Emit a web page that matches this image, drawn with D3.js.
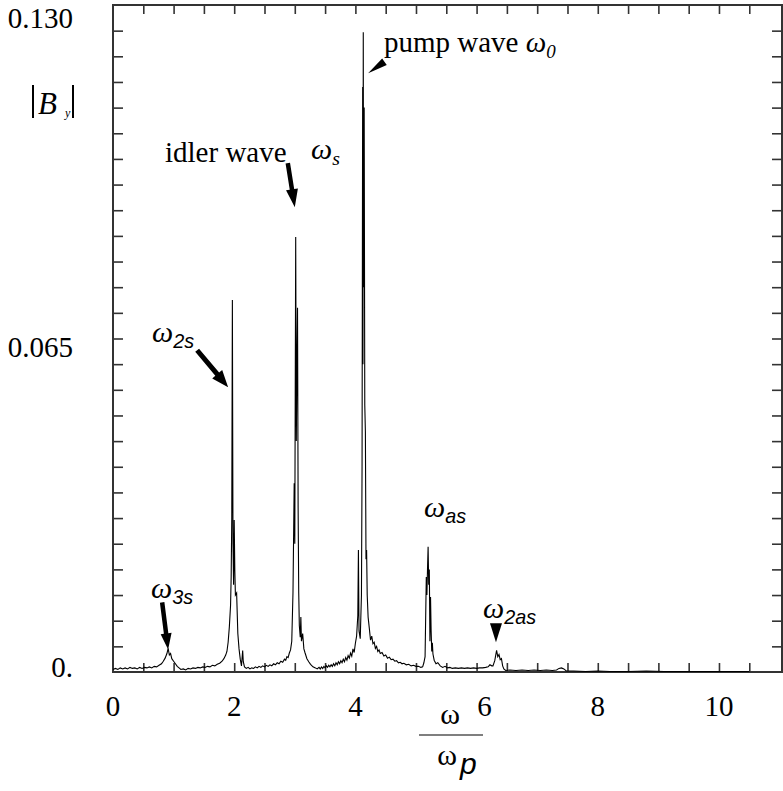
<!DOCTYPE html>
<html>
<head>
<meta charset="utf-8">
<script src="https://cdn.jsdelivr.net/npm/d3@7"></script>
<style>
  body { margin: 0; background: #fff; }
</style>
</head>
<body>
<div id="chart"></div>
<script>
// omega / omega_p
const omega = [
  0.00, 0.04, 0.08, 0.12, 0.16, 0.20, 0.24, 0.28, 0.32, 0.36, 0.40, 0.44, 0.48, 0.52, 0.56, 0.60,
  0.64, 0.68, 0.72, 0.76, 0.80, 0.83, 0.86, 0.89, 0.91, 0.93, 0.95, 0.97, 1.00, 1.03, 1.06, 1.09,
  1.12, 1.16, 1.20, 1.24, 1.28, 1.32, 1.36, 1.40, 1.44, 1.48, 1.52, 1.56, 1.60, 1.64, 1.68, 1.72,
  1.76, 1.80, 1.83, 1.86, 1.88, 1.90, 1.92, 1.94, 1.95, 1.96, 1.97, 1.98, 1.99, 2.00, 2.01, 2.02,
  2.04, 2.06, 2.08, 2.10, 2.12, 2.14, 2.15, 2.17, 2.20, 2.23, 2.26, 2.29, 2.32, 2.35, 2.38, 2.41,
  2.44, 2.47, 2.50, 2.53, 2.56, 2.59, 2.62, 2.65, 2.68, 2.71, 2.74, 2.77, 2.80, 2.83, 2.85, 2.87,
  2.89, 2.91, 2.93, 2.95, 2.97, 2.99, 3.00, 3.015, 3.025, 3.035, 3.045, 3.055, 3.065, 3.075, 3.09, 3.10,
  3.11, 3.13, 3.15, 3.17, 3.20, 3.23, 3.26, 3.30, 3.34, 3.37, 3.40, 3.42, 3.44, 3.46, 3.48, 3.50,
  3.52, 3.54, 3.56, 3.58, 3.60, 3.62, 3.64, 3.66, 3.68, 3.70, 3.72, 3.74, 3.76, 3.78, 3.80, 3.82,
  3.84, 3.86, 3.88, 3.90, 3.92, 3.94, 3.96, 3.98, 4.00, 4.02, 4.04, 4.05, 4.06, 4.08, 4.10, 4.11,
  4.12, 4.125, 4.13, 4.135, 4.145, 4.155, 4.165, 4.175, 4.185, 4.195, 4.21, 4.23, 4.25, 4.27, 4.29, 4.31,
  4.33, 4.35, 4.37, 4.39, 4.41, 4.44, 4.47, 4.50, 4.53, 4.56, 4.59, 4.62, 4.65, 4.68, 4.71, 4.74,
  4.77, 4.80, 4.84, 4.88, 4.92, 4.96, 5.00, 5.04, 5.08, 5.11, 5.13, 5.15, 5.17, 5.18, 5.19, 5.20,
  5.21, 5.22, 5.23, 5.24, 5.25, 5.26, 5.27, 5.28, 5.30, 5.33, 5.36, 5.40, 5.44, 5.48, 5.52, 5.56,
  5.60, 5.65, 5.70, 5.75, 5.80, 5.85, 5.90, 5.95, 6.00, 6.05, 6.10, 6.15, 6.19, 6.22, 6.25, 6.27,
  6.30, 6.33, 6.35, 6.37, 6.39, 6.41, 6.43, 6.45, 6.48, 6.55, 6.65, 6.75, 6.85, 6.95, 7.05, 7.15,
  7.25, 7.32, 7.36, 7.40, 7.44, 7.48, 7.60, 7.80, 8.00, 8.20, 8.50, 8.80, 9.10, 9.40, 9.70, 10.00,
  10.30, 10.50
];

// |B_y|
const By = [
  0.0005, 0.0007, 0.0005, 0.0008, 0.0006, 0.0008, 0.0006, 0.0009, 0.0007, 0.0008, 0.0006, 0.0009, 0.0007, 0.0009, 0.0008, 0.0010,
  0.0008, 0.0011, 0.0010, 0.0013, 0.0016, 0.0021, 0.0027, 0.0036, 0.0046, 0.0033, 0.0036, 0.0026, 0.0021, 0.0016, 0.0011, 0.0008,
  0.0005, 0.0006, 0.0004, 0.0007, 0.0006, 0.0008, 0.0007, 0.0009, 0.0008, 0.0010, 0.0009, 0.0011, 0.0010, 0.0013, 0.0012, 0.0015,
  0.0017, 0.0021, 0.0026, 0.0033, 0.0040, 0.0058, 0.0088, 0.0130, 0.0185, 0.0300, 0.0725, 0.0250, 0.0170, 0.0296, 0.0200, 0.0150,
  0.0154, 0.0075, 0.0045, 0.0025, 0.0012, 0.0042, 0.0020, 0.0010, 0.0007, 0.0009, 0.0006, 0.0008, 0.0007, 0.0010, 0.0008, 0.0011,
  0.0009, 0.0012, 0.0010, 0.0013, 0.0011, 0.0014, 0.0012, 0.0016, 0.0014, 0.0018, 0.0016, 0.0021, 0.0019, 0.0025, 0.0023, 0.0030,
  0.0028, 0.0037, 0.0043, 0.0060, 0.0154, 0.0368, 0.0250, 0.0848, 0.0450, 0.0600, 0.0710, 0.0320, 0.0154, 0.0090, 0.0068, 0.0107,
  0.0060, 0.0075, 0.0045, 0.0037, 0.0026, 0.0020, 0.0015, 0.0010, 0.0008, 0.0006, 0.0009, 0.0006, 0.0010, 0.0007, 0.0011, 0.0008,
  0.0012, 0.0009, 0.0013, 0.0010, 0.0014, 0.0011, 0.0016, 0.0012, 0.0018, 0.0014, 0.0020, 0.0016, 0.0022, 0.0018, 0.0025, 0.0020,
  0.0028, 0.0023, 0.0032, 0.0027, 0.0037, 0.0031, 0.0045, 0.0038, 0.0056, 0.0070, 0.0110, 0.0238, 0.0080, 0.0065, 0.0150, 0.0400,
  0.1140, 0.0600, 0.1247, 0.0750, 0.1100, 0.0520, 0.0468, 0.0220, 0.0238, 0.0150, 0.0107, 0.0085, 0.0062, 0.0070, 0.0055, 0.0058,
  0.0046, 0.0050, 0.0040, 0.0043, 0.0036, 0.0038, 0.0031, 0.0033, 0.0027, 0.0029, 0.0024, 0.0025, 0.0021, 0.0022, 0.0018, 0.0019,
  0.0016, 0.0017, 0.0014, 0.0015, 0.0012, 0.0013, 0.0011, 0.0011, 0.0009, 0.0010, 0.0018, 0.0030, 0.0185, 0.0150, 0.0200, 0.0244,
  0.0170, 0.0200, 0.0060, 0.0146, 0.0080, 0.0040, 0.0057, 0.0035, 0.0023, 0.0016, 0.0018, 0.0012, 0.0009, 0.0011, 0.0008, 0.0009,
  0.0007, 0.0008, 0.0007, 0.0008, 0.0007, 0.0008, 0.0007, 0.0008, 0.0007, 0.0008, 0.0008, 0.0009, 0.0010, 0.0014, 0.0012, 0.0012,
  0.0022, 0.0042, 0.0030, 0.0034, 0.0024, 0.0026, 0.0012, 0.0006, 0.0003, 0.0004, 0.0003, 0.0004, 0.0003, 0.0004, 0.0003, 0.0004,
  0.0003, 0.0004, 0.0007, 0.0008, 0.0006, 0.0002, 0.0002, 0.0001, 0.0002, 0.0001, 0.0001, 0.0002, 0.0001, 0.0001, 0.0001, 0.0001,
  0.0001, 0.0001
];

const xTicks = d3.range(1, 22).map(i => i * 0.5);      // 0.5 .. 10.5
const yTicks = d3.range(1, 26).map(i => i * 0.005);    // 0.005 .. 0.125
const xLabels = [0, 2, 4, 6, 8, 10];
const yLabels = [0, 0.065, 0.130];
const yLabelText = ["0.", "0.065", "0.130"];

const SERIF = "Liberation Serif, Times New Roman, serif";
const SANS = "Liberation Sans, Arial, sans-serif";

const W = 783, H = 791;
const x = d3.scaleLinear().domain([0, 11.04]).range([113, 782]);
const y = d3.scaleLinear().domain([0, 0.130]).range([672, 5]);

const svg = d3.select("#chart").append("svg")
  .attr("width", W)
  .attr("height", H);

// ticks on all four sides, pointing inwards
function noDomain(g) {
  g.select(".domain").remove();
  g.selectAll(".tick line").attr("stroke", "#333").attr("stroke-width", 1.6);
}
svg.append("g").attr("transform", `translate(0,${y(0)})`)
  .call(d3.axisBottom(x).tickValues(xTicks).tickSize(-9).tickFormat(""))
  .call(noDomain);
svg.append("g").attr("transform", `translate(0,${y(0.130)})`)
  .call(d3.axisTop(x).tickValues(xTicks).tickSize(-9).tickFormat(""))
  .call(noDomain);
svg.append("g").attr("transform", `translate(${x(0)},0)`)
  .call(d3.axisLeft(y).tickValues(yTicks).tickSize(-10).tickFormat(""))
  .call(noDomain);
svg.append("g").attr("transform", `translate(${x.range()[1]},0)`)
  .call(d3.axisRight(y).tickValues(yTicks).tickSize(-10).tickFormat(""))
  .call(noDomain);

// frame
svg.append("rect")
  .attr("x", x(0)).attr("y", y(0.130))
  .attr("width", x.range()[1] - x(0))
  .attr("height", y(0) - y(0.130))
  .attr("fill", "none")
  .attr("stroke", "#333")
  .attr("stroke-width", 2);

// spectrum
const line = d3.line()
  .x(d => x(d[0]))
  .y(d => y(d[1]));

svg.append("path")
  .datum(d3.zip(omega, By))
  .attr("d", line)
  .attr("fill", "none")
  .attr("stroke", "#000")
  .attr("stroke-width", 1.1)
  .attr("stroke-linejoin", "miter");

// plain serif text, always inside a tspan
function serifText(xp, yp, size, str, anchor) {
  const t = svg.append("text")
    .attr("x", xp).attr("y", yp)
    .attr("text-anchor", anchor || "start")
    .style("font-family", SERIF)
    .style("font-size", size + "px");
  t.append("tspan").style("font-family", SERIF).text(str);
  return t;
}

// tick labels
xLabels.forEach(d => serifText(x(d) + (d === 6 ? 8 : 0), 716, 29, d, "middle"));
yLabels.forEach((d, i) => serifText(73, y(d) + [5, 18, 23][i], 29, yLabelText[i], "end"));

// axis titles
const ylab = svg.append("g");
ylab.append("line").attr("x1", 33).attr("x2", 33).attr("y1", 85).attr("y2", 118)
  .attr("stroke", "#000").attr("stroke-width", 2);
ylab.append("line").attr("x1", 73).attr("x2", 73).attr("y1", 85).attr("y2", 118)
  .attr("stroke", "#000").attr("stroke-width", 2);
serifText(38, 114, 31, "B").style("font-style", "italic");
serifText(65, 117, 12, "y").style("font-style", "italic");

serifText(450, 724, 30, "ω", "middle");
svg.append("line").attr("x1", 419).attr("x2", 483).attr("y1", 735).attr("y2", 735)
  .attr("stroke", "#000").attr("stroke-width", 1.2);
serifText(447, 765, 30, "ω", "middle");
svg.append("text").attr("x", 460).attr("y", 774)
  .style("font-family", SANS).style("font-style", "italic").style("font-size", "30px")
  .append("tspan").text("p");

// arrows
function arrow(x1, y1, x2, y2, sw, hl, hw) {
  const dx = x2 - x1, dy = y2 - y1, L = Math.hypot(dx, dy);
  const ux = dx / L, uy = dy / L, px = -uy, py = ux;
  const bx = x2 - ux * hl, by = y2 - uy * hl;
  const pts = [
    [x1 + px * sw / 2, y1 + py * sw / 2],
    [bx + px * sw / 2, by + py * sw / 2],
    [bx + px * hw / 2, by + py * hw / 2],
    [x2, y2],
    [bx - px * hw / 2, by - py * hw / 2],
    [bx - px * sw / 2, by - py * sw / 2],
    [x1 - px * sw / 2, y1 - py * sw / 2]
  ];
  svg.append("path").attr("d", "M" + pts.join("L") + "Z").attr("fill", "#000");
}
// w_3s
arrow(x(0.91) - 6, y(0.0046) - 46, x(0.91), y(0.0046) + 1, 4.5, 16, 11);
// w_2s
arrow(x(1.90) - 31, y(0.0555) - 37, x(1.90), y(0.0555), 5, 17, 13);
// idler
arrow(x(3.00) - 7, y(0.0906) - 44, x(3.00), y(0.0906), 4.5, 18, 12);
// pump (wedge)
arrow(x(4.21) + 17, y(0.1167) - 12, x(4.21), y(0.1167), 0, 20, 8);
// w_2as (wedge)
arrow(x(6.32), y(0.0058) - 19, x(6.32), y(0.0058), 0, 19, 12);

// annotations
function omegaLabel(xp, yp, sub, size, subFont) {
  const t = svg.append("text").attr("x", xp).attr("y", yp)
    .style("font-size", size + "px");
  t.append("tspan").style("font-family", SERIF).style("font-style", "italic")
    .style("font-size", size + "px").text("ω");
  t.append("tspan").style("font-family", subFont).style("font-style", "italic")
    .style("font-size", (size * 0.66) + "px").attr("dy", 6).text(sub);
  return t;
}
omegaLabel(151, 598, "3s", 30, SANS);
omegaLabel(152, 342, "2s", 30, SANS);
omegaLabel(424, 517, "as", 30, SANS);
omegaLabel(483, 618, "2as", 30, SANS);

serifText(165, 162, 29, "idler wave");
omegaLabel(311, 159, "s", 30, SERIF);

const pump = serifText(384, 52, 29, "pump wave ");
pump.append("tspan").style("font-family", SERIF).style("font-style", "italic").text("ω");
pump.append("tspan").style("font-family", SERIF).style("font-style", "italic")
  .style("font-size", "19px").attr("dy", 6).text("0");
</script>
</body>
</html>
